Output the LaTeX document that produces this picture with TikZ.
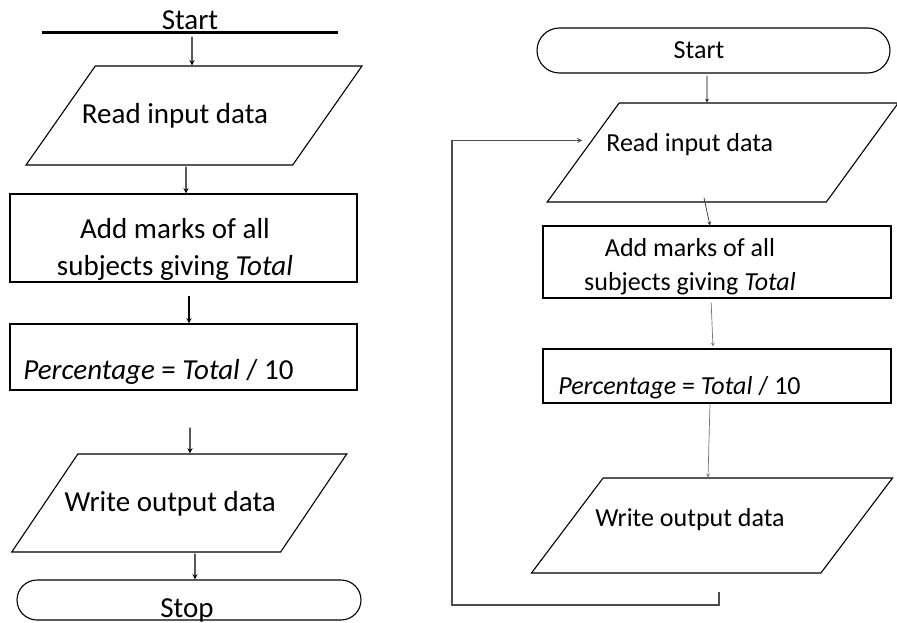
\documentclass[tikz,border=0pt]{standalone}
\usepackage{fontspec}
\setmainfont{Carlito}
\usetikzlibrary{shapes.geometric, shapes.misc, arrows, calc}

% text placed inside a fixed-size shape, shifted by (dx,dy) from its centre
\newcommand{\offtext}[3]{\raisebox{#2}[0.5pt][0.5pt]{\hbox to 1pt{\hspace*{0.5pt}\hspace*{#1}\makebox[0pt]{#3}\hss}}}

\begin{document}
\begin{tikzpicture}[x=1pt, y=-1pt,
    io/.style={trapezium, trapezium stretches body=true, draw, line width=1.1pt, inner sep=0pt, text height=#1/2, text depth=#1/2},
    proc/.style={rectangle, draw, line width=1.1pt, inner sep=0pt},
    term/.style={rounded rectangle, draw, line width=1.1pt, inner sep=0pt},
    bigtext/.style={font=\fontsize{29}{37}\selectfont},
    smalltext/.style={font=\fontsize{26}{34}\selectfont},
    arrow/.style={->, >=stealth, line width=1.4pt},
    thinarrow/.style={->, >=stealth, line width=0.7pt, #1},
    feedback/.style={->, >=stealth, line width=1.3pt, black!70}]

    \useasboundingbox (0,0) rectangle (897,623);

    % Left flowchart
    \node[bigtext, inner sep=3pt, minimum width=295pt, anchor=south] (startA) at (190,33) {Start};
    \draw[line width=3pt] (startA.south west) -- (startA.south east);
    \node[io=99pt, bigtext, trapezium left angle=55, trapezium right angle=125, minimum width=336pt] (readA) at (194,115.5) {\offtext{-19pt}{-8.5pt}{Read input data}};
    \node[proc, bigtext, minimum width=347pt, minimum height=88pt] (addA) at (183.5,238) {\offtext{-8.5pt}{-37pt}{\begin{tabular}[b]{@{}c@{}}Add marks of all\\subjects giving \textit{Total}\end{tabular}}};
    \node[proc, bigtext, minimum width=347pt, minimum height=66pt] (pctA) at (183.5,357) {\offtext{-25pt}{-22pt}{\textit{Percentage} = \textit{Total} / 10}};
    \node[io=98pt, bigtext, trapezium left angle=56, trapezium right angle=124, minimum width=335pt] (writeA) at (179.25,503) {\offtext{-9pt}{-8pt}{Write output data}};
    \node[term, bigtext, minimum width=344pt, minimum height=40pt] (stopA) at (189,600) {\offtext{-2pt}{-17pt}{Stop}};

    % Arrows of the left flowchart
    \draw[arrow, shorten <=4pt] ([xshift=2pt]startA.south) -- ([xshift=-2pt]readA.north);
    \draw[arrow, shorten <=1pt] ([xshift=-8pt]readA.south) -- ([xshift=2.5pt]addA.north);
    \draw[arrow, shorten <=13pt] ([xshift=5.5pt]addA.south) -- ([xshift=5.5pt]pctA.north);
    \draw[arrow, shorten <=37pt] ([xshift=6.5pt]pctA.south) -- ([xshift=10.75pt]writeA.north);
    \draw[arrow, shorten <=1pt] ([xshift=15.75pt]writeA.south) -- ([xshift=6pt]stopA.north);

    % Right flowchart
    \node[term, smalltext, minimum width=353pt, minimum height=45pt] (startB) at (713.5,50.5) {\offtext{-14.5pt}{-8.5pt}{Start}};
    \node[io=99pt, smalltext, trapezium left angle=54, trapezium right angle=126, minimum width=351pt] (readB) at (722.75,152.5) {\offtext{-33pt}{0.5pt}{Read input data}};
    \node[proc, smalltext, minimum width=348pt, minimum height=72pt] (addB) at (717,262) {\offtext{-27pt}{-28pt}{\begin{tabular}[b]{@{}c@{}}Add marks of all\\subjects giving \textit{Total}\end{tabular}}};
    \node[proc, smalltext, minimum width=348pt, minimum height=54pt] (pctB) at (717,376) {\offtext{-37.5pt}{-18pt}{\textit{Percentage} = \textit{Total} / 10}};
    \node[io=95pt, smalltext, trapezium left angle=53, trapezium right angle=127, minimum width=361pt] (writeB) at (712,525.5) {\offtext{-22pt}{-0.5pt}{Write output data}};

    % Arrows of the right flowchart - thin, some grey
    \draw[thinarrow=black, shorten <=2pt] ([xshift=-6.5pt]startB.south) -- ([xshift=-15.75pt]readB.north);
    \draw[thinarrow=black!80, shorten <=-5pt] ([xshift=-17.75pt]readB.south) -- ([xshift=-7pt]addB.north);
    \draw[thinarrow=black!55, shorten <=4pt, shorten >=2pt] ([xshift=-6pt]addB.south) -- ([xshift=-4pt]pctB.north);
    \draw[thinarrow=black!55] ([xshift=-7pt]pctB.south) -- ([xshift=-4pt]writeB.north);

    % Loop back from below the output to the input
    \coordinate (loopfoot) at (719,592);
    \draw[feedback, shorten >=9pt] (loopfoot) |- (452,605)
        |- ($(readB.top left corner)!0.38!(readB.bottom left corner)$);
\end{tikzpicture}
\end{document}
